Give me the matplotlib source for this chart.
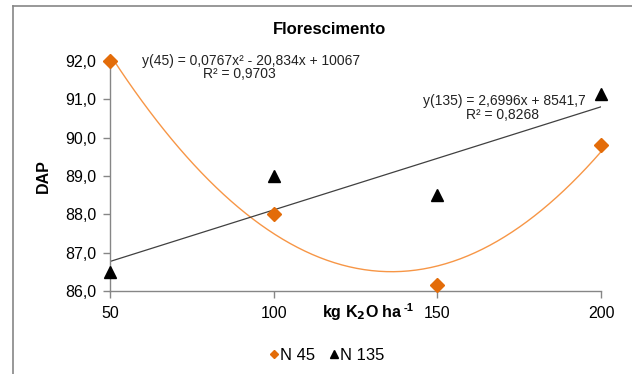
import numpy as np
import matplotlib
matplotlib.use("Agg")
import matplotlib.pyplot as plt
from matplotlib.lines import Line2D

plt.rcParams['font.family'] = ['Liberation Sans', 'DejaVu Sans']

doses = [50, 100, 150, 200]
n45 = [92.0, 88.0, 86.15, 89.8]
n135 = [86.5, 89.0, 88.5, 91.15]
yticks = [86.0, 87.0, 88.0, 89.0, 90.0, 91.0, 92.0]
ytick_labels = ['86,0', '87,0', '88,0', '89,0', '90,0', '91,0', '92,0']
xticks = [50, 100, 150, 200]

W, H = 632, 374
fig = plt.figure(figsize=(W / 100, H / 100), dpi=100)
ax = fig.add_axes([110 / W, 1 - 291 / H, (601 - 110) / W, (291 - 61) / H])

orange_m = '#E36C09'
orange_l = '#F79646'
gray = '#868686'

xs = np.linspace(50, 200, 200)
c2 = np.polyfit(doses, n45, 2)
c1 = np.polyfit(doses, n135, 1)
ax.plot(xs, np.polyval(c2, xs), color=orange_l, lw=1.0, zorder=2)
ax.plot(xs, np.polyval(c1, xs), color='#404040', lw=0.9, zorder=2)

ax.plot(doses, n45, linestyle='none', marker='D', ms=7.5, color=orange_m,
        label='N 45', zorder=3, clip_on=False)
ax.plot(doses, n135, linestyle='none', marker='^', ms=9, color='black',
        label='N 135', zorder=3, clip_on=False)

ax.set_xlim(50, 200)
ax.set_ylim(86, 92)
ax.set_xticks(xticks)
ax.set_xticklabels([str(v) for v in xticks])
ax.set_yticks(yticks)
ax.set_yticklabels(ytick_labels)
for s in ['top', 'right']:
    ax.spines[s].set_visible(False)
for s in ['left', 'bottom']:
    ax.spines[s].set_color(gray)
    ax.spines[s].set_linewidth(1.0)
ax.tick_params(axis='both', colors=gray, labelcolor='black', labelsize=11.5,
               length=5, width=1.0, direction='out')
ax.tick_params(axis='x', pad=6)
ax.tick_params(axis='y', pad=5)

ax.set_ylabel('DAP', fontsize=11.5, fontweight='bold', labelpad=10)

# x-axis title placed on the tick-label row
xl = fig.text(322 / W, 1 - 312 / H, r'kg K$_\mathbf{2}$O ha', fontsize=11.5,
              fontweight='bold', ha='left', va='center')
fig.canvas.draw()
bb = xl.get_window_extent(renderer=fig.canvas.get_renderer())
fig.text((bb.x1 + 0.5) / W, 1 - 308 / H, '-1', fontsize=8,
         fontweight='bold', ha='left', va='center')

fig.text(330 / W, 1 - 30 / H, 'Florescimento', fontsize=12, fontweight='bold',
         ha='center', va='center')

fig.text(251 / W, 1 - 61 / H, 'y(45) = 0,0767x² - 20,834x + 10067', fontsize=10,
         ha='center', va='center', color='#222222')
fig.text(239 / W, 1 - 74 / H, 'R² = 0,9703', fontsize=10,
         ha='center', va='center', color='#222222')
fig.text(504 / W, 1 - 101 / H, 'y(135) = 2,6996x + 8541,7', fontsize=10,
         ha='center', va='center', color='#222222')
fig.text(502 / W, 1 - 115 / H, 'R² = 0,8268', fontsize=10,
         ha='center', va='center', color='#222222')

fig.legend(loc='center', bbox_to_anchor=(327 / W, 1 - 355 / H), ncol=2,
           frameon=False, fontsize=12, handlelength=0.5, handletextpad=0.1,
           columnspacing=0.9, markerscale=0.6)

# outer chart border (partially cropped)
fig.add_artist(Line2D([13 / W, 13 / W], [0, 1 - 6 / H], transform=fig.transFigure,
                      color=gray, lw=1.2))
fig.add_artist(Line2D([13 / W, 1], [1 - 6 / H, 1 - 6 / H], transform=fig.transFigure,
                      color=gray, lw=1.2))

fig.savefig('out.png', dpi=100)
